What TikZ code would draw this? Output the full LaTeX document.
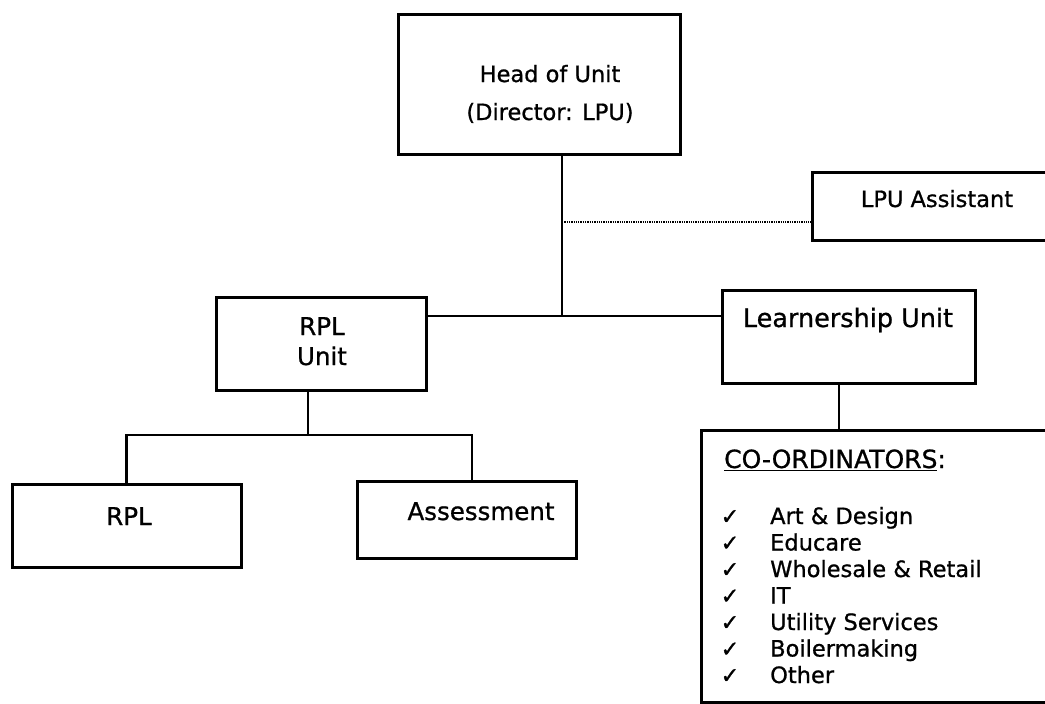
\documentclass[tikz,border=0pt]{standalone}
\usepackage{fontspec}
\setmainfont{DejaVu Sans}
\newfontfamily\heavy[FakeBold=0.9]{DejaVu Sans}
\newfontfamily\tickfont[FakeBold=1.5]{DejaVu Sans}
\begin{document}
\begin{tikzpicture}[x=1pt,y=-1pt,
  box/.style={draw, line width=3pt, inner sep=0pt, outer sep=0pt},
  link/.style={line width=2.8pt},
  aide/.style={line width=1.4pt, dash pattern=on 1.3pt off 1pt},
  lbl/.style={anchor=base, inner sep=0pt, font=\fontsize{22.5}{27}\heavy},
  biglbl/.style={anchor=base, inner sep=0pt, font=\fontsize{24.5}{29}\heavy},
  item/.style={anchor=base west, inner sep=0pt, font=\fontsize{22.5}{27}\heavy},
  tick/.style={anchor=base, inner sep=0pt, font=\fontsize{22}{26}\tickfont}
]
\useasboundingbox (0,0) rectangle (1045,704);
\clip (0,0) rectangle (1045,704);

% boxes
\node[box, minimum width=282pt, minimum height=140pt] (head)   at (539,84) {};
\node[box, minimum width=250pt, minimum height=68pt]  (lpu)    at (937,206) {};
\node[box, minimum width=210pt, minimum height=93pt]  (rplunit) at (321,343.5) {};
\node[box, minimum width=253pt, minimum height=93pt]  (learn)  at (848.5,336.5) {};
\node[box, minimum width=229pt, minimum height=83pt]  (rpl)    at (126.5,525.5) {};
\node[box, minimum width=219pt, minimum height=77pt]  (assess) at (466.5,519.5) {};
\node[box, minimum width=361pt, minimum height=272pt] (coord)  at (881.5,566) {};

% texts
\node[lbl] (headA) at (550,82) {Head of Unit};
\node[lbl] (headB) at (550,120) {(Director: LPU)};
\node[lbl] (lpuT) at (937,207) {LPU Assistant};
\node[biglbl] (rplunitA) at (322,335) {RPL};
\node[biglbl] (rplunitB) at (322,365) {Unit};
\node[biglbl, font=\fontsize{25.5}{30}\heavy] (learnT) at (848,327) {Learnership Unit};
\node[biglbl] (rplT) at (129,525) {RPL};
\node[biglbl] (assessT) at (481,520) {Assessment};
\node[anchor=base west, inner sep=0pt, font=\fontsize{25}{30}\heavy] (coordT) at (724,468) {\underline{CO-ORDINATORS}:};

\foreach \t [count=\i from 0] in {Art \& Design, Educare, Wholesale \& Retail, IT, Utility Services, Boilermaking, Other} {
  \node[tick] (tk\i) at (730,524+26.5*\i) {✓};
  \node[item] (it\i) at (770,524+26.5*\i) {\t};
}

% connectors
\coordinate (j) at (562,316);
\coordinate (d) at (562,222);
\coordinate (k) at (308,435);
\coordinate (ka) at (472,435);
\draw[link] (head.south -| j) -- (j);
\draw[link] (rplunit.east |- j) -- (learn.west |- j);
\draw[aide] (d) -- (lpu.west |- d);
\draw[link] (rplunit.south -| k) -- (k);
\draw[link] (rpl.north) |- (ka) -- (ka |- assess.north);
\draw[link] ([xshift=-9.5pt]learn.south) -- ([xshift=-9.5pt]learn.south |- coord.north);
\end{tikzpicture}
\end{document}
